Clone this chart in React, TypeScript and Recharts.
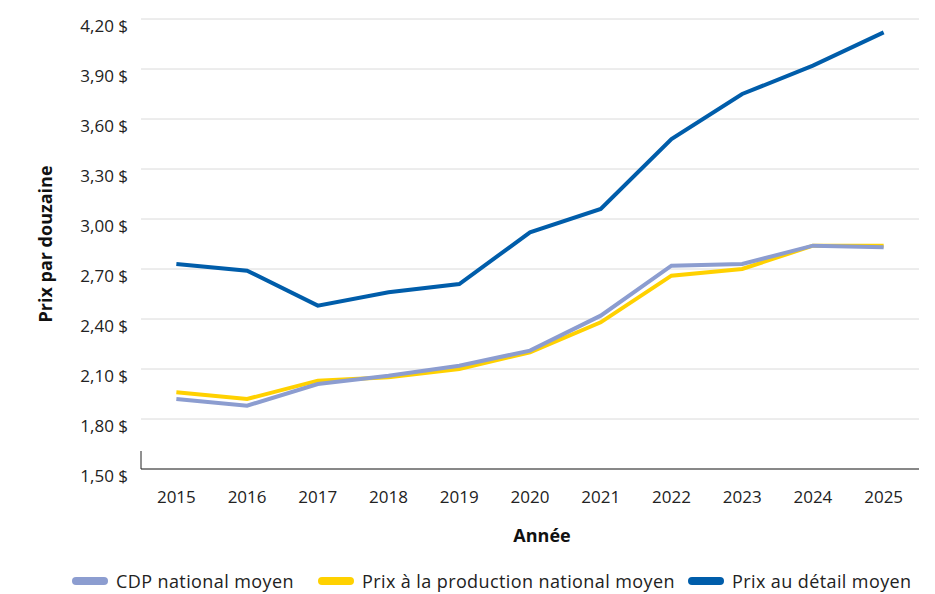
import React from 'react';
import { LineChart, Line, XAxis, YAxis, CartesianGrid, Legend, Label } from 'recharts';

const years = ['2015', '2016', '2017', '2018', '2019', '2020', '2021', '2022', '2023', '2024', '2025'];
const cdpNational = [1.92, 1.88, 2.01, 2.06, 2.12, 2.21, 2.42, 2.72, 2.73, 2.84, 2.83];
const productionNational = [1.96, 1.92, 2.03, 2.05, 2.10, 2.20, 2.38, 2.66, 2.70, 2.84, 2.84];
const retailAverage = [2.73, 2.69, 2.48, 2.56, 2.61, 2.92, 3.06, 3.48, 3.75, 3.92, 4.12];
const yTicks = [1.5, 1.8, 2.1, 2.4, 2.7, 3.0, 3.3, 3.6, 3.9, 4.2];

const seriesNames = {
  cdp: 'CDP national moyen',
  production: 'Prix à la production national moyen',
  retail: 'Prix au détail moyen',
};
const colors = {
  cdp: '#8C9DD0',
  production: '#FFD100',
  retail: '#005DAA',
};

const data = years.map((year, i) => ({
  year,
  cdp: cdpNational[i],
  production: productionNational[i],
  retail: retailAverage[i],
}));

const FONT = '"Open Sans", sans-serif';
const HALF_BAND = 35.36;

const fmt = (v: number) => v.toFixed(2).replace('.', ',') + ' $';

const XTick = (props: any) => {
  const { x, y, payload, index } = props;
  return (
    <g>
      <text x={x} y={y} dy="0.71em" textAnchor="middle" fill="#222" fontSize={17} fontFamily={FONT}>
        {payload.value}
      </text>
      {index === 0 && (
        <line x1={x - HALF_BAND} x2={x - HALF_BAND} y1={y - 22} y2={y - 40} stroke="#222" strokeWidth={1} />
      )}
    </g>
  );
};

const YTick = (props: any) => {
  const { x, y, payload } = props;
  return (
    <text x={x} y={y} dy={13} textAnchor="end" fill="#222" fontSize={17} fontFamily={FONT}>
      {fmt(payload.value)}
    </text>
  );
};

const legendOrder: Array<'cdp' | 'production' | 'retail'> = ['cdp', 'production', 'retail'];
const legendItemWidths = [246, 370, undefined];

const LegendContent = () => (
  <div
    style={{
      display: 'flex',
      alignItems: 'center',
      height: 26,
      paddingLeft: 72,
      fontFamily: FONT,
      fontSize: 18,
      letterSpacing: 0.4,
      color: '#222',
      whiteSpace: 'nowrap',
    }}
  >
    {legendOrder.map((k, i) => (
      <div
        key={k}
        style={{ display: 'flex', alignItems: 'center', width: legendItemWidths[i], flex: 'none' }}
      >
        <span
          style={{
            display: 'inline-block',
            width: 36,
            height: 8,
            borderRadius: 4,
            background: colors[k],
            marginRight: 8,
          }}
        />
        <span>{seriesNames[k]}</span>
      </div>
    ))}
  </div>
);

export default function App() {
  return (
    <div style={{ position: 'absolute', left: 0, top: 0, width: 935, height: 594, background: '#fff' }}>
      <LineChart
        width={935}
        height={594}
        data={data}
        margin={{ top: 19, right: 16, left: 0, bottom: 0 }}
        style={{ fontFamily: FONT }}
      >
        <CartesianGrid vertical={false} stroke="#DADADA" strokeWidth={1} />
        <XAxis
          dataKey="year"
          height={99}
          padding={{ left: HALF_BAND, right: HALF_BAND }}
          tickLine={false}
          tickSize={0}
          tickMargin={22}
          axisLine={{ stroke: '#222', strokeWidth: 1 }}
          tick={<XTick />}
          interval={0}
        >
          <Label
            value="Année"
            position="insideBottom"
            offset={26}
            dx={12}
            style={{ fontFamily: FONT, fontSize: 18, fontWeight: 700, fill: '#111' }}
          />
        </XAxis>
        <YAxis
          width={141}
          domain={[1.5, 4.2]}
          ticks={yTicks}
          interval={0}
          axisLine={false}
          tickLine={false}
          tickSize={0}
          tickMargin={13}
          tick={<YTick />}
        >
          <Label
            value="Prix par douzaine"
            angle={-90}
            position="insideLeft"
            offset={46}
            style={{ fontFamily: FONT, fontSize: 18, fontWeight: 700, fill: '#111', textAnchor: 'middle' }}
          />
        </YAxis>
        <Legend verticalAlign="bottom" align="left" content={<LegendContent />} wrapperStyle={{ height: 26 }} />
        <Line
          type="linear"
          dataKey="production"
          name={seriesNames.production}
          stroke={colors.production}
          strokeWidth={4}
          dot={false}
          activeDot={false}
          isAnimationActive={false}
        />
        <Line
          type="linear"
          dataKey="cdp"
          name={seriesNames.cdp}
          stroke={colors.cdp}
          strokeWidth={4}
          dot={false}
          activeDot={false}
          isAnimationActive={false}
        />
        <Line
          type="linear"
          dataKey="retail"
          name={seriesNames.retail}
          stroke={colors.retail}
          strokeWidth={4}
          dot={false}
          activeDot={false}
          isAnimationActive={false}
        />
      </LineChart>
    </div>
  );
}
